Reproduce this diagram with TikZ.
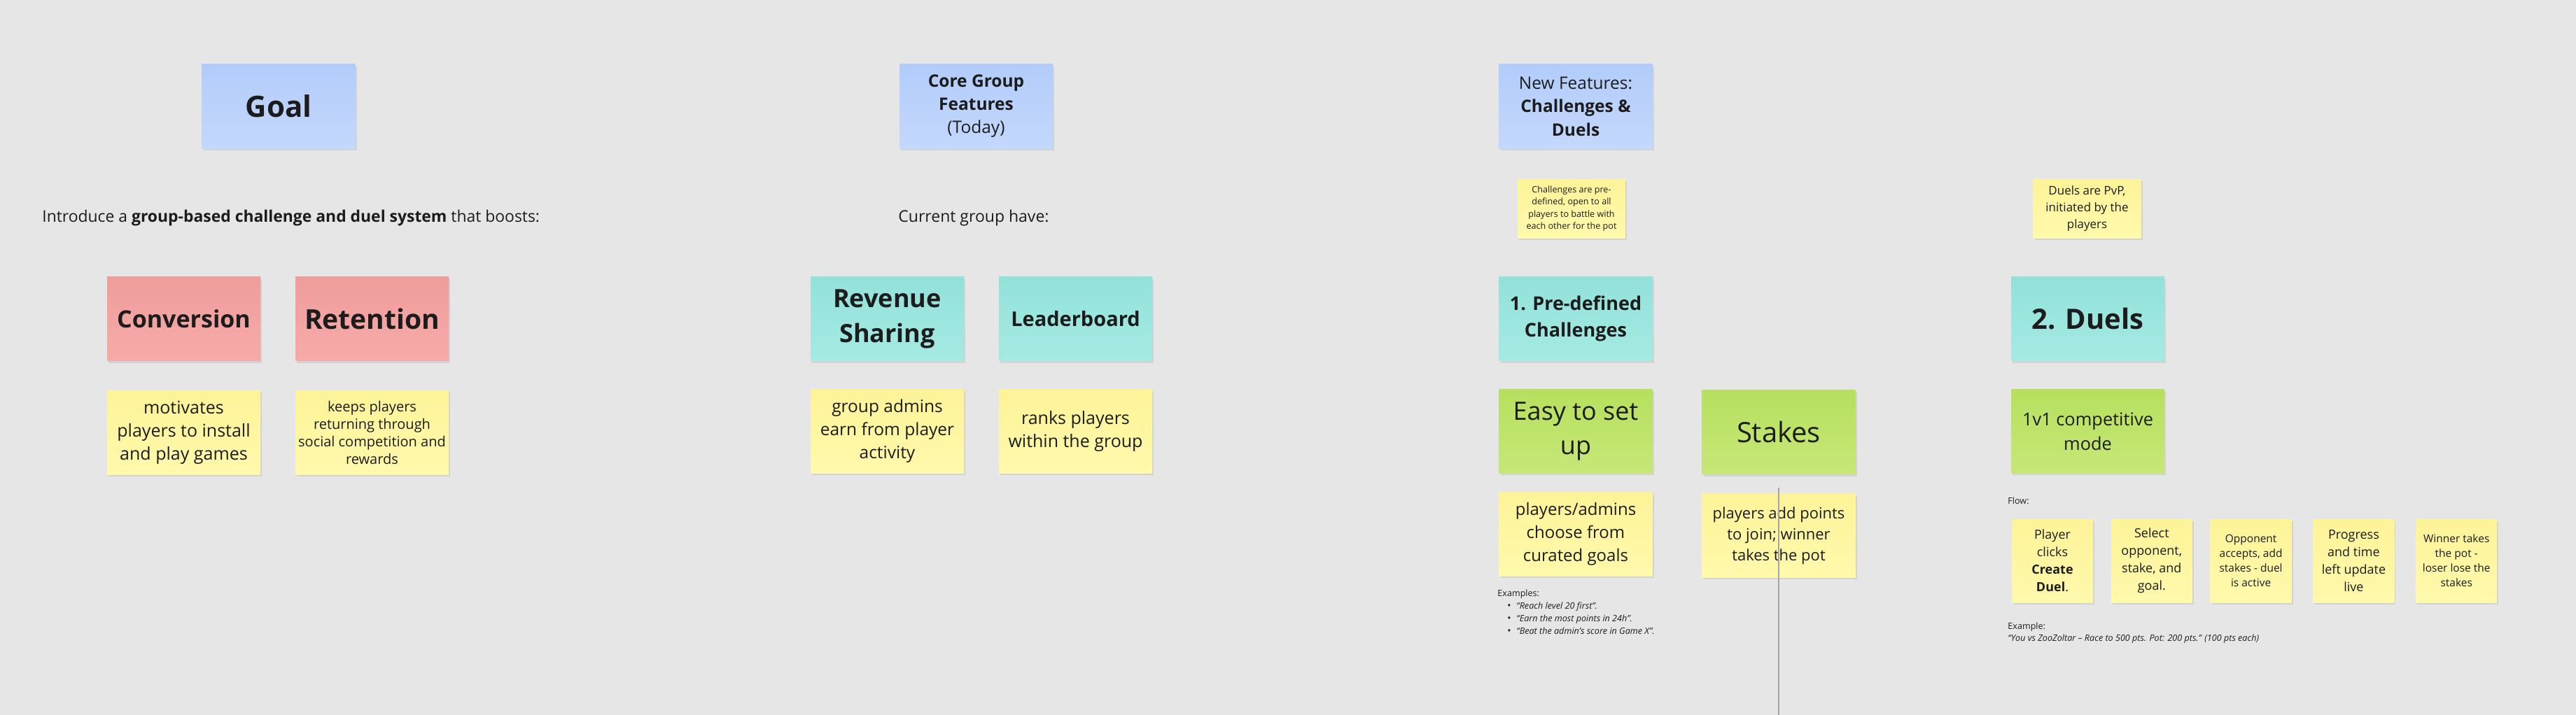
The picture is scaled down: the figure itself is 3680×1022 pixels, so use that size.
\documentclass[tikz,border=0pt]{standalone}
\usepackage{fontspec}
\setmainfont{Open Sans}
\usetikzlibrary{positioning,shadows}

\definecolor{board}{RGB}{230,230,230}
\definecolor{ink}{RGB}{28,28,28}
\definecolor{blueA}{RGB}{178,204,250}
\definecolor{blueB}{RGB}{196,216,253}
\definecolor{redA}{RGB}{239,157,155}
\definecolor{redB}{RGB}{246,171,169}
\definecolor{tealA}{RGB}{146,226,218}
\definecolor{tealB}{RGB}{165,234,227}
\definecolor{yelA}{RGB}{253,243,152}
\definecolor{yelB}{RGB}{255,249,172}
\definecolor{greenA}{RGB}{182,224,94}
\definecolor{greenB}{RGB}{199,231,120}
\definecolor{rulegray}{RGB}{165,165,165}

\tikzstyle{note} = [rectangle, inner sep=0pt, align=center, text=ink,
    minimum width=109.5pt, minimum height=60pt,
    drop shadow={shadow xshift=1pt, shadow yshift=-1.5pt, opacity=0.08, fill=black}]
\tikzstyle{bluenote} = [note, top color=blueA, bottom color=blueB]
\tikzstyle{rednote} = [note, top color=redA, bottom color=redB]
\tikzstyle{tealnote} = [note, top color=tealA, bottom color=tealB]
\tikzstyle{yellownote} = [note, top color=yelA, bottom color=yelB]
\tikzstyle{greennote} = [note, top color=greenA, bottom color=greenB]
\tikzstyle{smallnote} = [yellownote, minimum width=77pt, minimum height=42pt]
\tikzstyle{flowstep} = [yellownote, minimum width=58pt, minimum height=59.5pt]
\tikzstyle{plain} = [inner sep=0pt, text=ink, anchor=west]

\begin{document}
\begin{tikzpicture}[x=0.5pt,y=-0.5pt]
\fill[board] (0,0) rectangle (3680,1022);
\useasboundingbox (0,0) rectangle (3680,1022);

% goal
\node[bluenote, font=\fontsize{21}{26}\selectfont\bfseries] (goal) at (398,152) {Goal};
\node[plain, font=\fontsize{11.45}{14}\selectfont] (intro) at (60,312)
    {Introduce a \textbf{group-based challenge and duel system} that boosts:};
\node[rednote, font=\fontsize{17}{22}\selectfont\bfseries] (conv) at (262.5,455.5) {Conversion};
\node[rednote, font=\fontsize{19.5}{24}\selectfont\bfseries] (ret) at (531.5,455.5) {Retention};
\node[yellownote, below=21pt of conv, font=\fontsize{12.5}{16.5}\selectfont] (motiv)
    {motivates\\players to install\\and play games};
\node[yellownote, below=21pt of ret, font=\fontsize{10}{12.5}\selectfont] (keeps)
    {keeps players\\returning through\\social competition and\\rewards};

% core group features
\node[bluenote, font=\fontsize{12.25}{16.5}\selectfont] (core) at (1394.5,152)
    {\textbf{Core Group}\\\textbf{Features}\\(Today)};
\node[plain, font=\fontsize{11.5}{14}\selectfont] (current) at (1283,312) {Current group have:};
\node[tealnote, font=\fontsize{18}{25}\selectfont\bfseries] (rev) at (1267.5,455.5) {Revenue\\Sharing};
\node[tealnote, font=\fontsize{14.5}{18}\selectfont\bfseries] (lead) at (1536.5,455.5) {Leaderboard};
\node[yellownote, below=20pt of rev, font=\fontsize{12.25}{16.5}\selectfont] (earn)
    {group admins\\earn from player\\activity};
\node[yellownote, below=20pt of lead, font=\fontsize{12.5}{16.5}\selectfont] (ranks)
    {ranks players\\within the group};

% new features
\node[bluenote, font=\fontsize{12.25}{16.75}\selectfont] (newf) at (2251,152)
    {New Features:\\\textbf{Challenges \&}\\\textbf{Duels}};
\node[smallnote, font=\fontsize{6.3}{8.75}\selectfont] (chnote) at (2245,298)
    {Challenges are pre-\\defined, open to all\\players to battle with\\each other for the pot};
\node[tealnote, font=\fontsize{13.5}{19}\selectfont\bfseries] (pre) at (2251,455.5)
    {1. Pre-defined\\Challenges};
\node[greennote, below=20pt of pre, font=\fontsize{18}{24.5}\selectfont] (easy) {Easy to set\\up};
\node[greennote, font=\fontsize{20}{24}\selectfont] (stakes) at (2541,617.5) {Stakes};
\node[yellownote, below=13pt of easy, font=\fontsize{12}{16.5}\selectfont] (choose)
    {players/admins\\choose from\\curated goals};
\node[yellownote, below=13.5pt of stakes, font=\fontsize{11}{15}\selectfont] (pot)
    {players add points\\to join; winner\\takes the pot};
\node[plain, anchor=north west, align=left, font=\fontsize{6.3}{9}\selectfont] (examples) at (2139,843)
    {Examples:\\
     \hspace*{7pt}\makebox[6.5pt][l]{\scriptsize\textbullet}\textit{“Reach level 20 first”.}\\
     \hspace*{7pt}\makebox[6.5pt][l]{\scriptsize\textbullet}\textit{“Earn the most points in 24h”.}\\
     \hspace*{7pt}\makebox[6.5pt][l]{\scriptsize\textbullet}\textit{“Beat the admin’s score in Game X”.}};
\coordinate (ruletop) at (2541,697);
\coordinate (rulebot) at (2541,1022);
\draw[rulegray, line width=0.8pt] (ruletop) -- (rulebot);

% duels
\node[smallnote, font=\fontsize{8.5}{12}\selectfont] (dunote) at (2981.5,298)
    {Duels are PvP,\\initiated by the\\players};
\node[tealnote, font=\fontsize{20}{24}\selectfont\bfseries] (duels) at (2982.5,455.5) {2. Duels};
\node[greennote, below=20pt of duels, font=\fontsize{12.7}{17.5}\selectfont] (onev1)
    {1v1 competitive\\mode};
\node[plain, font=\fontsize{6.3}{8}\selectfont] (flow) at (2868,716) {Flow:};
\node[flowstep, font=\fontsize{9}{12.5}\selectfont] (f1) at (2932,801.5)
    {Player\\clicks\\\textbf{Create}\\\textbf{Duel}.};
\node[flowstep, right=12.5pt of f1, font=\fontsize{9}{12.5}\selectfont] (f2)
    {Select\\opponent,\\stake, and\\goal.};
\node[flowstep, right=12.5pt of f2, font=\fontsize{7.75}{10.5}\selectfont] (f3)
    {Opponent\\accepts, add\\stakes - duel\\is active};
\node[flowstep, right=15pt of f3, font=\fontsize{9}{12.5}\selectfont] (f4)
    {Progress\\and time\\left update\\live};
\node[flowstep, right=15pt of f4, font=\fontsize{7.75}{10.5}\selectfont] (f5)
    {Winner takes\\the pot -\\loser lose the\\stakes};
\node[plain, font=\fontsize{6.3}{8}\selectfont] (example) at (2868,896) {Example:};
\node[plain, font=\fontsize{6.3}{8}\selectfont\itshape] (race) at (2868,913)
    {“You vs ZooZoltar – Race to 500 pts. Pot: 200 pts.” (100 pts each)};
\end{tikzpicture}
\end{document}
